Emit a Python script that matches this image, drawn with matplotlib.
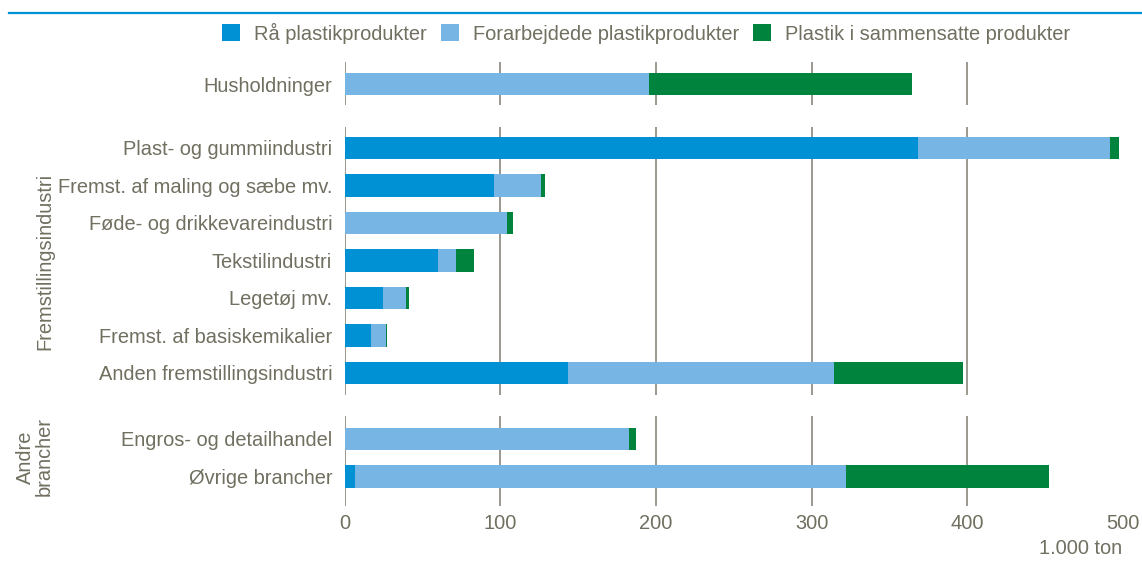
import numpy as np
import matplotlib.pyplot as plt
from matplotlib.patches import Patch
from matplotlib.lines import Line2D

plt.rcParams['font.family'] = ['Liberation Sans', 'DejaVu Sans']

# Data (1.000 ton)
series_names = ['Rå plastikprodukter', 'Forarbejdede plastikprodukter',
                'Plastik i sammensatte produkter']
colors = ['#0091d5', '#77b5e4', '#00843d']

hh_labels = ['Husholdninger']
hh_raa = [0]
hh_forarb = [195.6]
hh_samm = [169.0]

fr_labels = ['Plast- og gummiindustri', 'Fremst. af maling og sæbe mv.',
             'Føde- og drikkevareindustri', 'Tekstilindustri', 'Legetøj mv.',
             'Fremst. af basiskemikalier', 'Anden fremstillingsindustri']
fr_raa = [368.7, 95.9, 0, 60.0, 24.6, 16.9, 143.5]
fr_forarb = [123.3, 30.3, 104.3, 11.6, 14.8, 9.6, 171.2]
fr_samm = [5.7, 2.6, 3.9, 11.5, 1.9, 0.7, 82.9]

an_labels = ['Engros- og detailhandel', 'Øvrige brancher']
an_raa = [0, 6.6]
an_forarb = [182.7, 315.8]
an_samm = [4.5, 130.2]

xticks = [0, 100, 200, 300, 400, 500]
grid_x = [0, 100, 200, 300, 400]

TXT = '#706f60'
GRID = '#8a887c'
FS = 14.4
W, H = 1142, 569

fig = plt.figure(figsize=(W / 100, H / 100), dpi=100)


def add_panel(top, bottom, labels, raa, forarb, samm, ylim):
    ax = fig.add_axes([344.7 / W, 1 - bottom / H, 778 / W, (bottom - top) / H])
    y = np.arange(len(labels))
    left = np.zeros(len(labels))
    for vals, c in zip([raa, forarb, samm], colors):
        ax.barh(y, vals, left=left, height=0.61, color=c, zorder=2)
        left = left + np.array(vals)
    for gx in grid_x:
        ax.axvline(gx, color=GRID, lw=1.2, zorder=1)
    ax.set_xlim(0, 500)
    ax.set_ylim(*ylim)
    ax.set_yticks(y)
    ax.set_yticklabels(labels, fontsize=FS, color=TXT)
    ax.tick_params(axis='y', length=0, pad=9)
    ax.set_xticks([])
    for s in ax.spines.values():
        s.set_visible(False)
    return ax


add_panel(62, 105, hh_labels, hh_raa, hh_forarb, hh_samm, (0.56, -0.587))
add_panel(126.7, 395, fr_labels, fr_raa, fr_forarb, fr_samm, (6.587, -0.568))
ax3 = add_panel(416, 506, an_labels, an_raa, an_forarb, an_samm, (1.787, -0.613))

ax3.set_xticks(xticks)
ax3.set_xticklabels([str(t) for t in xticks], fontsize=FS, color=TXT)
ax3.tick_params(axis='x', length=0, pad=6)

fig.text(1122 / W, 1 - 549 / H, '1.000 ton', fontsize=FS, color=TXT,
         ha='right', va='center')

# group labels
fig.text(45 / W, 1 - 261 / H, 'Fremstillingsindustri', rotation=90, fontsize=FS,
         color=TXT, ha='center', va='center')
fig.text(35 / W, 1 - 457 / H, 'Andre\nbrancher', rotation=90, fontsize=FS,
         color=TXT, ha='center', va='center', linespacing=1.0)

# top rule
fig.add_artist(Line2D([9 / W, 1], [1 - 12.5 / H, 1 - 12.5 / H], color='#0091d5', lw=1.6))

# legend
handles = [Patch(facecolor=c, edgecolor='none') for c in colors]
fig.legend(handles, series_names, loc='center left',
           bbox_to_anchor=(222 / W, 1 - 33 / H), ncol=3, frameon=False,
           fontsize=FS, labelcolor=TXT, handlelength=0.9, handleheight=0.9,
           handletextpad=0.7, columnspacing=0.7, borderpad=0, borderaxespad=0)

plt.savefig('out.png', dpi=100)
